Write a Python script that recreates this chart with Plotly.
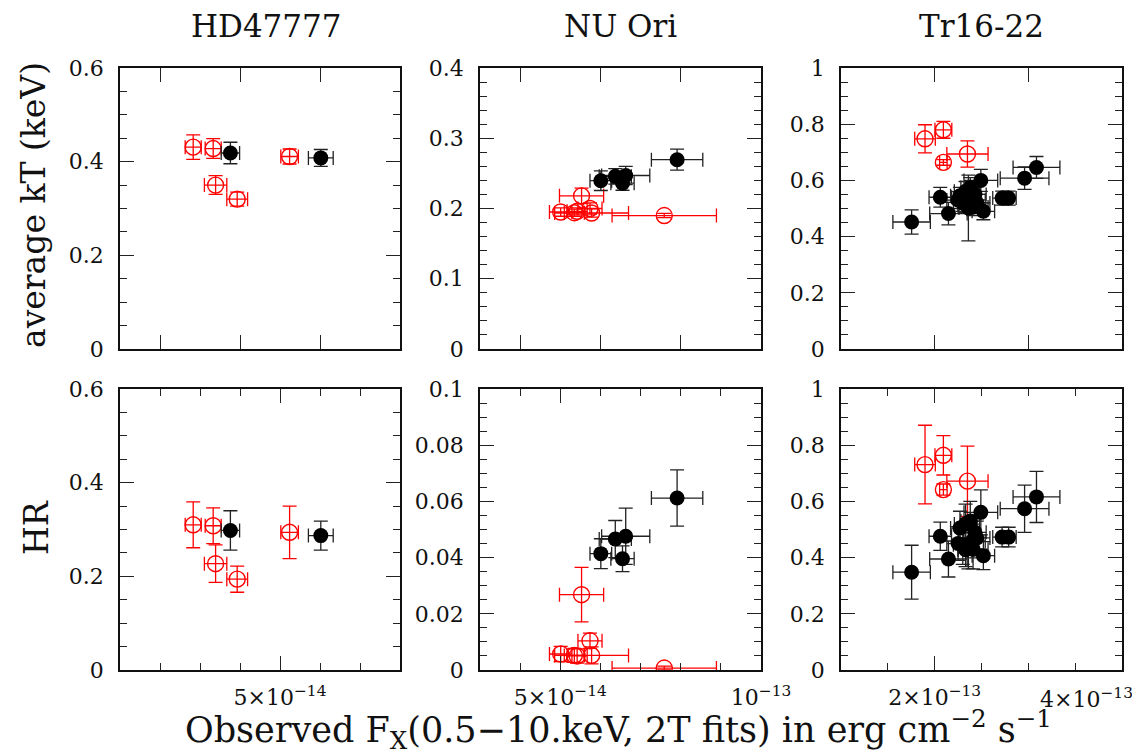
import plotly.graph_objects as go

# ---------------- data ----------------
# HD47777 (flux in units of 1e-14 erg/cm2/s)
hd_red_fx = [2.83, 3.33, 5.24, 3.39, 3.93]
hd_red_fx_err = [0.20, 0.20, 0.22, 0.28, 0.26]
hd_red_kt = [0.431, 0.428, 0.411, 0.350, 0.320]
hd_red_kt_err = [0.026, 0.021, 0.016, 0.020, 0.015]
hd_red_hr = [0.310, 0.308, 0.294, 0.227, 0.194]
hd_red_hr_err = [0.049, 0.038, 0.056, 0.040, 0.028]
hd_blk_fx = [3.76, 6.02]
hd_blk_fx_err = [0.23, 0.31]
hd_blk_kt = [0.4185, 0.408]
hd_blk_kt_err = [0.023, 0.018]
hd_blk_hr = [0.298, 0.287]
hd_blk_hr_err = [0.042, 0.031]

# NU Ori (flux in units of 1e-14)
nu_red_fx = [5.01, 5.35, 5.42, 5.53, 5.74, 5.78, 7.59]
nu_red_fx_err = [0.28, 0.25, 0.25, 0.55, 0.30, 0.92, 1.30]
nu_red_kt = [0.195, 0.194, 0.196, 0.218, 0.200, 0.1936, 0.190]
nu_red_kt_err = [0.006, 0.005, 0.005, 0.011, 0.008, 0.006, 0.003]
nu_red_hr = [0.0057, 0.0052, 0.0050, 0.0268, 0.0104, 0.0052, 0.0007]
nu_red_hr_err = [0.0027, 0.0025, 0.0025, 0.0097, 0.0027, 0.0030, 0.0007]
nu_blk_fx = [6.01, 6.37, 6.63, 6.55, 7.91]
nu_blk_fx_err = [0.27, 0.40, 0.60, 0.29, 0.64]
nu_blk_kt = [0.2396, 0.2458, 0.247, 0.236, 0.2695]
nu_blk_kt_err = [0.014, 0.011, 0.013, 0.010, 0.015]
nu_blk_hr = [0.0414, 0.0466, 0.0476, 0.0396, 0.0612]
nu_blk_hr_err = [0.0053, 0.0066, 0.0100, 0.0046, 0.0100]

# Tr16-22 (flux in units of 1e-13)
tr_red_fx = [1.897, 2.093, 2.093, 2.35]
tr_red_fx_err = [0.11, 0.09, 0.04, 0.22]
tr_red_kt = [0.748, 0.780, 0.664, 0.694]
tr_red_kt_err = [0.050, 0.030, 0.010, 0.047]
tr_red_hr = [0.731, 0.764, 0.642, 0.672]
tr_red_hr_err = [0.140, 0.070, 0.020, 0.125]
tr_blk_fx = [1.754, 2.06, 2.147, 2.493, 2.52, 2.72, 2.79, 2.96, 3.087,
             2.27, 2.33, 2.36, 2.40, 2.33, 2.43, 2.30, 2.45, 2.38, 2.25, 2.41]
tr_blk_fx_err = [0.20, 0.12, 0.20, 0.18, 0.12, 0.10, 0.08, 0.26, 0.25,
                 0.10, 0.12, 0.10, 0.14, 0.08, 0.12, 0.10, 0.14, 0.10, 0.12, 0.16]
tr_blk_kt = [0.452, 0.540, 0.482, 0.600, 0.490, 0.537, 0.537, 0.608, 0.646,
             0.545, 0.561, 0.502, 0.531, 0.515, 0.550, 0.520, 0.520, 0.575, 0.530, 0.505]
tr_blk_kt_err = [0.043, 0.035, 0.040, 0.039, 0.030, 0.025, 0.025, 0.040, 0.039,
                 0.030, 0.035, 0.117, 0.030, 0.030, 0.035, 0.030, 0.030, 0.035, 0.030, 0.030]
tr_blk_hr = [0.348, 0.476, 0.395, 0.561, 0.407, 0.473, 0.473, 0.574, 0.616,
             0.505, 0.520, 0.440, 0.459, 0.428, 0.490, 0.446, 0.470, 0.530, 0.450, 0.430]
tr_blk_hr_err = [0.096, 0.050, 0.064, 0.080, 0.050, 0.035, 0.035, 0.084, 0.091,
                 0.060, 0.070, 0.080, 0.060, 0.060, 0.060, 0.070, 0.060, 0.070, 0.060, 0.070]

titles = ["HD47777", "NU Ori", "Tr16-22"]
flux_units = [1e-14, 1e-14, 1e-13]

# ---------------- layout geometry ----------------
W, H = 1140, 754
cols_px = [(112, 392), (472, 753), (833, 1114)]
rows_px = [(60, 341), (381, 662)]

FONT = "DejaVu Serif"
INK = "#111111"
TICK = "#222222"
TFS = 22  # tick font size

stars = [
    dict(rfx=hd_red_fx, rfe=hd_red_fx_err, rkt=hd_red_kt, rkte=hd_red_kt_err, rhr=hd_red_hr, rhre=hd_red_hr_err,
         bfx=hd_blk_fx, bfe=hd_blk_fx_err, bkt=hd_blk_kt, bkte=hd_blk_kt_err, bhr=hd_blk_hr, bhre=hd_blk_hr_err),
    dict(rfx=nu_red_fx, rfe=nu_red_fx_err, rkt=nu_red_kt, rkte=nu_red_kt_err, rhr=nu_red_hr, rhre=nu_red_hr_err,
         bfx=nu_blk_fx, bfe=nu_blk_fx_err, bkt=nu_blk_kt, bkte=nu_blk_kt_err, bhr=nu_blk_hr, bhre=nu_blk_hr_err),
    dict(rfx=tr_red_fx, rfe=tr_red_fx_err, rkt=tr_red_kt, rkte=tr_red_kt_err, rhr=tr_red_hr, rhre=tr_red_hr_err,
         bfx=tr_blk_fx, bfe=tr_blk_fx_err, bkt=tr_blk_kt, bkte=tr_blk_kt_err, bhr=tr_blk_hr, bhre=tr_blk_hr_err),
]

x_ranges = [[1e-14, 8e-14], [3e-14, 1e-13], [1e-13, 4e-13]]
top_x_major = [2e-14, 2e-14, 1e-13]
top_x_minor = [0.5e-14, 0.5e-14, 0.25e-13]
bot_x_ticks = [[5e-14], [5e-14, 1e-13], [2e-13, 4e-13]]
bot_x_text = [["5×10<sup>−14</sup>"], ["5×10<sup>−14</sup>", "10<sup>−13</sup>"],
              ["2×10<sup>−13</sup>", ""]]
bot_x_minor = [1e-14, 1e-14, 0.5e-13]
edge_label = "4×10<sup>−13</sup>"

y_ranges = [[[0, 0.6], [0, 0.4], [0, 1]], [[0, 0.6], [0, 0.1], [0, 1]]]
y_ticks = [[[0, 0.2, 0.4, 0.6], [0, 0.1, 0.2, 0.3, 0.4], [0, 0.2, 0.4, 0.6, 0.8, 1]],
           [[0, 0.2, 0.4, 0.6], [0, 0.02, 0.04, 0.06, 0.08, 0.1], [0, 0.2, 0.4, 0.6, 0.8, 1]]]
y_minor = [[0.05, 0.02, 0.05], [0.05, 0.005, 0.05]]


def fmt(v):
    s = ("%.3f" % v).rstrip("0").rstrip(".")
    return s if s else "0"


fig = go.Figure()
layout = {}

for r in range(2):
    for c in range(3):
        i = r * 3 + c + 1
        xa = "x" if i == 1 else "x%d" % i
        ya = "y" if i == 1 else "y%d" % i
        st = stars[c]
        u = flux_units[c]
        ykey_r = "rkt" if r == 0 else "rhr"
        ykey_b = "bkt" if r == 0 else "bhr"
        # red (open circles)
        fig.add_trace(go.Scatter(
            x=[v * u for v in st["rfx"]], y=st[ykey_r], mode="markers",
            marker=dict(symbol="circle-open", size=16, color="red", line=dict(width=1.4, color="red")),
            error_x=dict(type="data", array=[v * u for v in st["rfe"]], color="red", thickness=1.3, width=7),
            error_y=dict(type="data", array=st[ykey_r + "e"], color="red", thickness=1.3, width=7),
            xaxis=xa, yaxis=ya, showlegend=False))
        # black (filled circles)
        fig.add_trace(go.Scatter(
            x=[v * u for v in st["bfx"]], y=st[ykey_b], mode="markers",
            marker=dict(symbol="circle", size=15, color="black", line=dict(width=0)),
            error_x=dict(type="data", array=[v * u for v in st["bfe"]], color="#222", thickness=1.3, width=7),
            error_y=dict(type="data", array=st[ykey_b + "e"], color="#222", thickness=1.3, width=7),
            xaxis=xa, yaxis=ya, showlegend=False))

        x0, x1 = cols_px[c]
        y0, y1 = rows_px[r]
        common = dict(showline=True, linecolor=INK, linewidth=1.6, mirror="allticks",
                      ticks="inside", ticklen=14, tickwidth=1.4, tickcolor=TICK,
                      showgrid=False, zeroline=False, automargin=False,
                      tickfont=dict(family=FONT, size=TFS, color=INK))
        minor_common = dict(ticks="inside", ticklen=7, tickwidth=1.3, tickcolor=TICK, showgrid=False, tick0=0)
        if r == 0:
            xdict = dict(common, domain=[x0 / W, x1 / W], range=x_ranges[c], anchor=ya,
                         tickmode="linear", tick0=0, dtick=top_x_major[c], showticklabels=False,
                         minor=dict(minor_common, dtick=top_x_minor[c]))
        else:
            xdict = dict(common, domain=[x0 / W, x1 / W], range=x_ranges[c], anchor=ya,
                         tickmode="array", tickvals=bot_x_ticks[c], ticktext=bot_x_text[c],
                         ticklabelstandoff=7,
                         minor=dict(minor_common, dtick=bot_x_minor[c]))
        ydict = dict(common, domain=[1 - y1 / H, 1 - y0 / H], range=y_ranges[r][c], anchor=xa,
                     tickmode="array", tickvals=y_ticks[r][c],
                     ticktext=[fmt(v) for v in y_ticks[r][c]], ticklabelstandoff=10,
                     minor=dict(minor_common, dtick=y_minor[r][c]))
        layout["xaxis" if i == 1 else "xaxis%d" % i] = xdict
        layout["yaxis" if i == 1 else "yaxis%d" % i] = ydict

annotations = []
title_cx = [258, 612, 973]
for c in range(3):
    annotations.append(dict(text=titles[c], x=title_cx[c] / W, y=1 - 18 / H, xref="paper", yref="paper",
                            xanchor="center", yanchor="middle", showarrow=False,
                            font=dict(family=FONT, size=31, color=INK)))
annotations.append(dict(text="average kT (keV)", x=25 / W, y=1 - 197 / H, xref="paper", yref="paper",
                        xanchor="center", yanchor="middle", textangle=-90, showarrow=False,
                        font=dict(family=FONT, size=33, color=INK)))
annotations.append(dict(text="HR", x=28 / W, y=1 - 520 / H, xref="paper", yref="paper",
                        xanchor="center", yanchor="middle", textangle=-90, showarrow=False,
                        font=dict(family=FONT, size=33, color=INK)))
annotations.append(dict(text="Observed F<sub>X</sub>(0.5−10.keV, 2T fits) in erg cm<sup>−2</sup> s<sup>−1</sup>",
                        x=610 / W, y=1 - 721 / H, xref="paper", yref="paper",
                        xanchor="center", yanchor="middle", showarrow=False,
                        font=dict(family=FONT, size=35, color=INK)))
# edge tick label of the Tr16-22 bottom axis (sits at the right border of the figure)
annotations.append(dict(text=edge_label, x=1127 / W, y=1 - 690 / H, xref="paper", yref="paper",
                        xanchor="right", yanchor="middle", showarrow=False,
                        font=dict(family=FONT, size=TFS, color=INK)))

fig.update_layout(width=W, height=H, margin=dict(l=0, r=0, t=0, b=0),
                  paper_bgcolor="white", plot_bgcolor="white",
                  annotations=annotations, **layout)

fig.write_html("out.html")
